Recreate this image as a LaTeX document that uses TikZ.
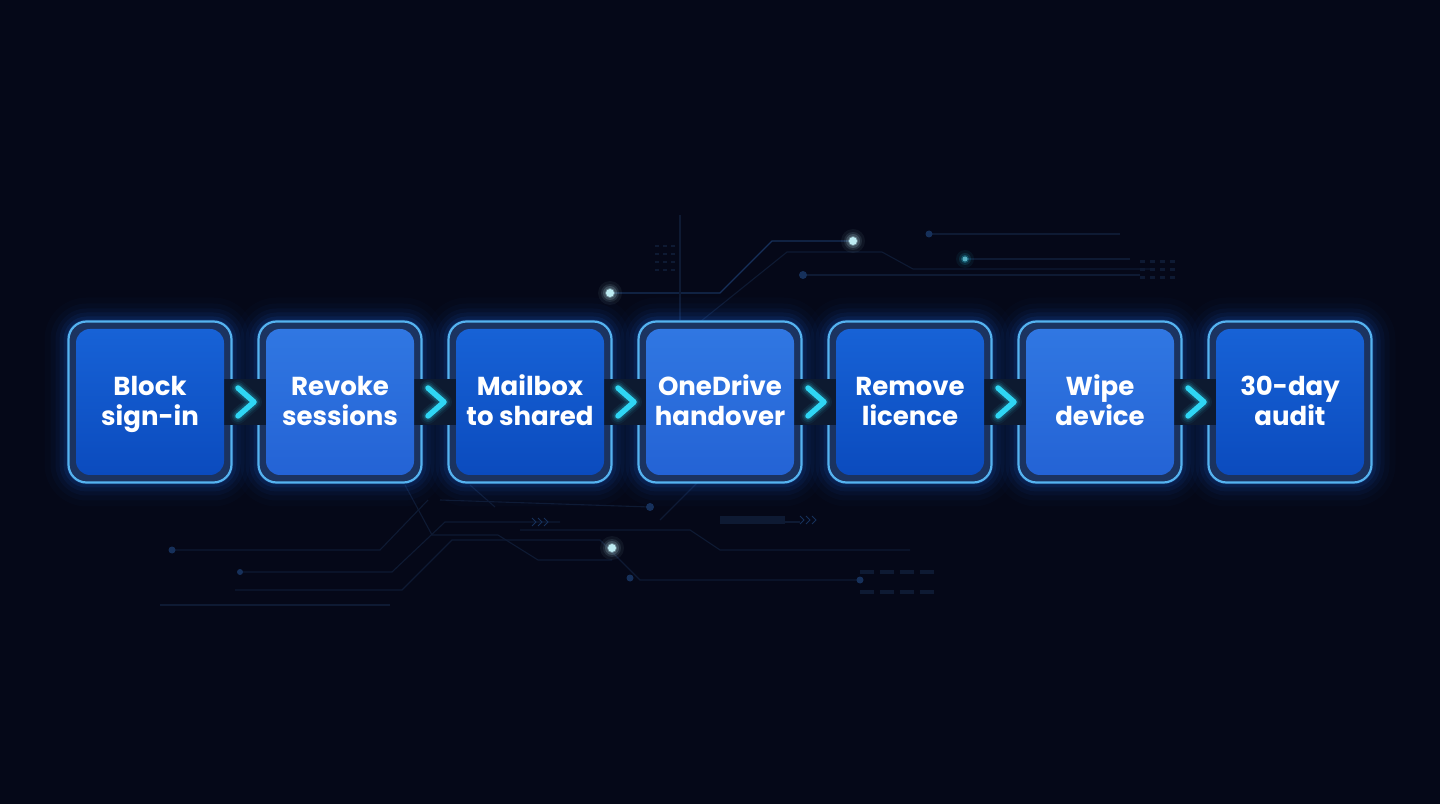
\documentclass[tikz,border=0pt]{standalone}
\usepackage{fontspec}
\setmainfont{Poppins}
\usetikzlibrary{calc}
\definecolor{bg}{HTML}{050818}
\definecolor{ring}{HTML}{1B3360}
\definecolor{border}{HTML}{55B3F0}
\definecolor{glowc}{HTML}{1F6FF0}
\definecolor{oddtop}{HTML}{1762D6}
\definecolor{oddbot}{HTML}{0B4BBE}
\definecolor{eventop}{HTML}{3077E2}
\definecolor{evenbot}{HTML}{2463D5}
\definecolor{barc}{HTML}{0D1A30}
\definecolor{chevc}{HTML}{2FD6F4}
\definecolor{circ}{HTML}{0E1A33}
\definecolor{circdot}{HTML}{16305A}
\definecolor{dotc}{HTML}{BDEBF2}
\tikzset{
  frame/.style={rectangle, minimum width=163pt, minimum height=161pt, rounded corners=18pt,
    fill=ring, draw=border, line width=2.2pt, inner sep=0pt},
  stepbox/.style={rectangle, minimum width=148pt, minimum height=146pt, rounded corners=14pt,
    align=center, text=white, inner sep=0pt, text height=51pt, text depth=3pt,
    font=\fontsize{26}{30}\selectfont\bfseries},
  oddbox/.style={stepbox, top color=oddtop, bottom color=oddbot},
  evenbox/.style={stepbox, top color=eventop, bottom color=evenbot},
  chev/.style={draw=chevc, line width=5.5pt, line cap=round, line join=round},
  chevglow/.style={draw=chevc, line cap=round, line join=round},
  circuit/.style={draw=circ, line width=1.1pt},
}
\begin{document}
\begin{tikzpicture}[x=1pt,y=1pt]
\useasboundingbox (0,0) rectangle (1440,804);
\fill[bg] (0,0) rectangle (1440,804);
% decorative circuit traces (pixel coords, y down)
\begin{scope}[shift={(0,804)}, yscale=-1]
  \draw[circuit, draw=circdot] (610,293) -- (720,293) -- (772,241) -- (853,241);
  \draw[circuit] (690,330) -- (787,252) -- (882,252) -- (913,269) -- (1150,269);
  \draw[circuit] (803,275) -- (1140,275);
  \draw[circuit] (965,259) -- (1130,259);
  \draw[circuit] (929,234) -- (1120,234);
  \draw[circuit] (680,215) -- (680,320);
  \fill[circdot] (803,275) circle (4);
  \fill[circdot] (929,234) circle (3.5);
  % lower traces
  \draw[circuit] (172,550) -- (380,550) -- (428,500);
  \draw[circuit] (240,572) -- (392,572) -- (445,522) -- (560,522);
  \draw[circuit] (235,590) -- (402,590) -- (452,540) -- (600,540) -- (640,580) -- (860,580);
  \draw[circuit] (405,485) -- (432,535) -- (498,535) -- (538,560) -- (612,560);
  \draw[circuit] (440,500) -- (650,507);
  \draw[circuit] (470,485) -- (495,507);
  \draw[circuit] (520,530) -- (690,530) -- (720,550) -- (910,550);
  \draw[circuit] (750,522) -- (800,522);
  \draw[circuit] (660,520) -- (700,480);
  \draw[circuit] (160,605) -- (390,605);
  \fill[circdot] (650,507) circle (4);
  \fill[circdot] (172,550) circle (3.5);
  \fill[circdot] (630,578) circle (3.5);
  \fill[circdot] (240,572) circle (3);
  \fill[circdot] (860,580) circle (3.5);
  \fill[circ] (720,516) rectangle (785,524);
  \foreach \xx in {800,806,812}{\draw[circdot, line width=1pt] (\xx,516) -- (\xx+4,520) -- (\xx,524);}
  \foreach \xx in {532,538,544}{\draw[circdot, line width=1pt] (\xx,518) -- (\xx+4,522) -- (\xx,526);}
  % faint grid marks
  \foreach \xx in {1140,1150,1160,1170}{\foreach \yy in {260,268,276}{\fill[circ] (\xx,\yy) rectangle ++(5,3);}}
  \foreach \xx in {655,663,671}{\foreach \yy in {245,253,261,269}{\fill[circ] (\xx,\yy) rectangle ++(4,2);}}
  \foreach \xx in {860,880,900,920}{\foreach \yy in {570,590}{\fill[circ] (\xx,\yy) rectangle ++(14,4);}}
  % glowing dots
  \foreach \px/\py in {853/241,610/293,612/548}{
    \foreach \r/\o in {12/0.06,9/0.1,7/0.18,5/0.35}{\fill[dotc, opacity=\o] (\px,\py) circle (\r);}
    \fill[dotc] (\px,\py) circle (4);
  }
  \foreach \r/\o in {9/0.06,6/0.12,4/0.25}{\fill[chevc, opacity=\o] (965,259) circle (\r);}
  \fill[chevc!60!white, opacity=0.6] (965,259) circle (2.5);
\end{scope}
% glows around frames
\foreach \cx in {150,340,530,720,910,1100,1290}{
  \foreach \g/\o in {24/0.02,18/0.035,13/0.05,9/0.07,5/0.1,2/0.12}{
    \fill[glowc, opacity=\o, rounded corners={18+\g}] (\cx-81.5-\g,402-80.5-\g) rectangle (\cx+81.5+\g,402+80.5+\g);
  }
}
% frames
\node[frame] (f1) at (150,402) {};
\node[frame] (f2) at (340,402) {};
\node[frame] (f3) at (530,402) {};
\node[frame] (f4) at (720,402) {};
\node[frame] (f5) at (910,402) {};
\node[frame] (f6) at (1100,402) {};
\node[frame] (f7) at (1290,402) {};
% connector bars
\foreach \a/\b in {f1/f2,f2/f3,f3/f4,f4/f5,f5/f6,f6/f7}{
  \fill[barc] ($(\a.east)+(-9,-23)$) rectangle ($(\b.west)+(9,23)$);
}
% step boxes
\node[oddbox]  (b1) at (f1) {Block\\sign-in};
\node[evenbox] (b2) at (f2) {Revoke\\sessions};
\node[oddbox]  (b3) at (f3) {Mailbox\\to shared};
\node[evenbox] (b4) at (f4) {OneDrive\\handover};
\node[oddbox]  (b5) at (f5) {Remove\\licence};
\node[evenbox] (b6) at (f6) {Wipe\\device};
\node[oddbox]  (b7) at (f7) {30-day\\audit};
% chevrons
\foreach \a/\b in {f1/f2,f2/f3,f3/f4,f4/f5,f5/f6,f6/f7}{
  \coordinate (m) at ($(\a.east)!0.5!(\b.west)$);
  \foreach \lw/\o in {16/0.06,12/0.1,9/0.16}{
    \draw[chevglow, line width=\lw pt, opacity=\o] ($(m)+(-7,14)$) -- ($(m)+(9,0)$) -- ($(m)+(-7,-14)$);
  }
  \draw[chev] ($(m)+(-7,14)$) -- ($(m)+(9,0)$) -- ($(m)+(-7,-14)$);
}
\end{tikzpicture}
\end{document}
